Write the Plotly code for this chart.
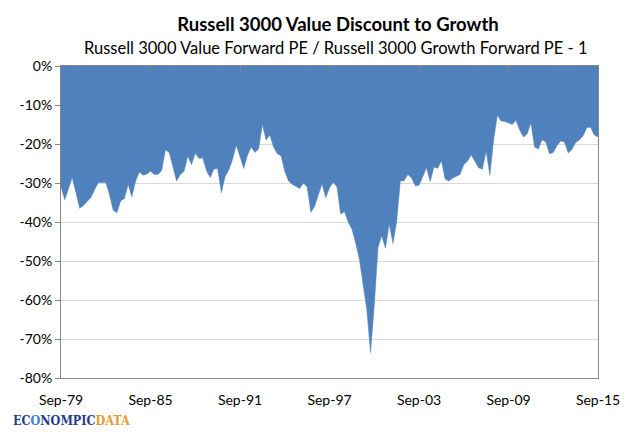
import pandas as pd
import plotly.graph_objects as go

# quarter-end dates, Sep-79 .. Sep-15
dates = pd.date_range("1979-09-30", "2015-09-30", freq="QE")

# value / growth forward PE - 1, in percent
discount = [
    -31.0, -34.3, -31.5, -28.6, -32.5, -36.5, -35.8, -34.7, -33.7, -31.7,
    -29.9, -29.9, -29.9, -33.0, -37.0, -37.6, -34.6, -34.0, -30.4, -33.5,
    -29.5, -27.2, -28.0, -27.7, -27.0, -27.8, -27.8, -26.8, -21.5, -22.2,
    -25.5, -29.5, -27.8, -27.0, -23.1, -25.3, -22.4, -23.7, -23.5, -26.8,
    -28.6, -26.4, -26.3, -32.5, -28.4, -26.6, -24.0, -20.3, -23.2, -26.3,
    -22.9, -20.8, -22.2, -21.2, -15.0, -19.0, -17.7, -20.8, -22.5, -23.0,
    -27.0, -29.5, -30.3, -30.8, -31.4, -30.0, -31.0, -37.5, -36.0, -33.0,
    -30.2, -33.8, -31.2, -29.8, -31.0, -38.0, -37.3, -40.0, -41.8, -45.3,
    -49.5, -56.0, -62.5, -73.5, -61.4, -46.5, -43.5, -46.7, -40.5, -45.5,
    -40.0, -29.5, -29.4, -27.8, -28.7, -30.7, -30.6, -28.4, -26.1, -29.6,
    -25.9, -26.2, -24.3, -29.0, -29.5, -28.8, -28.2, -27.8, -25.3, -24.4,
    -22.8, -24.5, -26.1, -26.5, -21.7, -28.0, -19.0, -12.6, -14.1, -14.2,
    -14.6, -15.0, -13.9, -16.4, -18.2, -17.4, -14.6, -20.8, -21.3, -18.9,
    -19.5, -22.5, -22.2, -20.4, -19.2, -19.5, -22.3, -21.4, -19.6, -19.0,
    -17.9, -15.8, -15.7, -17.7, -18.2,
]

x_tick_dates = ["1979-09-30", "1985-09-30", "1991-09-30", "1997-09-30",
                "2003-09-30", "2009-09-30", "2015-09-30"]
x_tick_labels = ["Sep-79", "Sep-85", "Sep-91", "Sep-97", "Sep-03", "Sep-09", "Sep-15"]
y_tick_vals = [0, -10, -20, -30, -40, -50, -60, -70, -80]
y_tick_labels = ["0%", "-10%", "-20%", "-30%", "-40%", "-50%", "-60%", "-70%", "-80%"]

FONT = "Lato"
# the page body has an 8px margin, so the figure is 16px smaller than the window
OFF = 8
W, H = 640 - 2 * OFF, 436 - 2 * OFF
# plot area in window pixels: x 58..607, y 66..378
L, R, T, B = 58 - OFF, 640 - 607 - OFF, 66 - OFF, 436 - 378 - OFF

fig = go.Figure()
fig.add_trace(go.Scatter(
    x=dates, y=discount,
    mode="lines", fill="tozeroy",
    line=dict(width=0.5, color="#4f81bd"),
    fillcolor="#4f81bd",
    hoverinfo="x+y",
))
# dummy trace so the top axis (tick marks hanging from 0%) is drawn
fig.add_trace(go.Scatter(x=[dates[0]], y=[0], xaxis="x2", mode="markers",
                         marker=dict(opacity=0), hoverinfo="skip"))

xrange = [x_tick_dates[0], x_tick_dates[-1]]
fig.update_layout(
    width=W, height=H,
    margin=dict(l=L, r=R, t=T, b=B),
    paper_bgcolor="white", plot_bgcolor="white",
    showlegend=False,
    font=dict(family=FONT, color="#000000"),
    title=dict(
        text="<b>Russell 3000 Value Discount to Growth</b>",
        x=(338 - OFF) / W, y=1 - (25 - OFF) / H, xanchor="center", yanchor="middle",
        font=dict(size=18.5, family=FONT, color="#000000"),
    ),
    xaxis=dict(
        type="date", range=xrange,
        tickvals=x_tick_dates, ticktext=x_tick_labels,
        ticks="", showgrid=False, ticklabelstandoff=9,
        showline=True, linecolor="#868686", linewidth=1, mirror=True,
        tickfont=dict(size=14, family=FONT),
        zeroline=False,
    ),
    xaxis2=dict(
        type="date", range=xrange, overlaying="x", side="top",
        tickvals=x_tick_dates, ticks="inside", ticklen=5,
        tickcolor="#868686", showticklabels=False, showgrid=False,
        showline=False, zeroline=False,
    ),
    yaxis=dict(
        range=[-80, 0], tickvals=y_tick_vals, ticktext=y_tick_labels,
        showgrid=True, gridcolor="#d9d9d9", gridwidth=1,
        ticks="outside", ticklen=5, tickcolor="#868686",
        showline=True, linecolor="#868686", linewidth=1, mirror=True,
        tickfont=dict(size=14, family=FONT),
        zeroline=False,
    ),
)

def px_x(p):
    return (p - OFF - L) / (W - L - R)

def px_y(p):
    return (H - B - (p - OFF)) / (H - T - B)

fig.add_annotation(
    text="Russell 3000 Value Forward PE / Russell 3000 Growth Forward PE - 1",
    xref="paper", yref="paper", x=px_x(339), y=px_y(48),
    xanchor="center", yanchor="middle", showarrow=False,
    font=dict(size=16.5, family=FONT, color="#000000"),
)
fig.add_annotation(
    text="<b><span style='color:#1f3c88'>EC</span><span style='color:#3a7fd0'>O</span>"
         "<span style='color:#1f3c88'>NOMPIC</span><span style='color:#e59a2d'>DATA</span></b>",
    xref="paper", yref="paper", x=px_x(8), y=px_y(420),
    xanchor="left", yanchor="middle", showarrow=False, borderpad=0,
    font=dict(size=12.5, family="DejaVu Serif Condensed, Liberation Serif"),
)

fig.write_html("out.html")
